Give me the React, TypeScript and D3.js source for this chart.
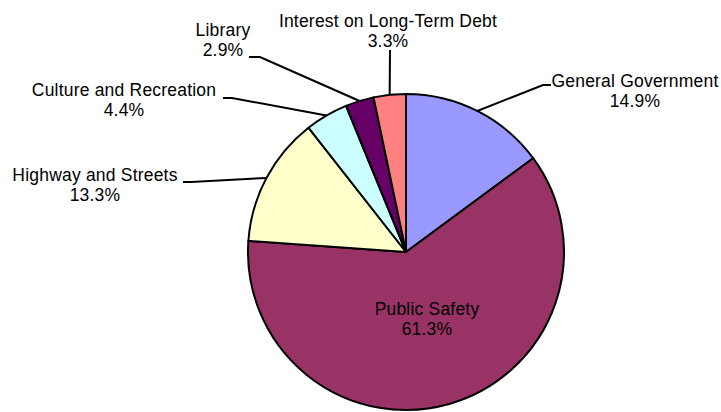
import React from "react";
import * as d3 from "d3";

const categories = [
  "General Government",
  "Public Safety",
  "Highway and Streets",
  "Culture and Recreation",
  "Library",
  "Interest on Long-Term Debt",
];
const values = [14.9, 61.3, 13.3, 4.4, 2.9, 3.3];
const colors = ["#9999FF", "#993366", "#FFFFCC", "#CCFFFF", "#660066", "#FF8080"];

// label layout: text centre x, first baseline y, leader elbow and end (null = inside label)
const labelLayout: ({ tx: number; ty: number; elbow: [number, number] | null; end: [number, number] | null })[] = [
  { tx: 635, ty: 87, elbow: [543, 85], end: [551, 85] },
  { tx: 427, ty: 315, elbow: null, end: null },
  { tx: 95, ty: 181, elbow: [191, 182], end: [183, 182] },
  { tx: 124, ty: 96, elbow: [232, 98], end: [223, 98] },
  { tx: 223, ty: 36, elbow: [260, 57], end: [249, 57] },
  { tx: 388, ty: 27, elbow: [390, 50], end: [390, 50] },
];

const W = 721;
const H = 412;
const cx = 406;
const cy = 252;
const R = 158;

export default function App() {
  const data = categories.map((c, i) => ({ name: c, value: values[i], color: colors[i] }));
  const pie = d3.pie<any>().value((d) => d.value).sort(null).startAngle(0).endAngle(2 * Math.PI);
  const arcs = pie(data);
  const arc = d3.arc<any>().innerRadius(0).outerRadius(R);
  const edge = d3.arc<any>().innerRadius(R).outerRadius(R);
  const fmt = (v: number) => v.toFixed(1) + "%";
  const font = "'Liberation Sans', Arial, sans-serif";

  return (
    <svg width={W} height={H} style={{ position: "absolute", left: 0, top: 0 }}>
      <rect width={W} height={H} fill="#fff" />
      <g transform={`translate(${cx},${cy})`}>
        {arcs.map((a, i) => (
          <path key={i} d={arc(a) as string} fill={a.data.color} stroke="#000" strokeWidth={2} strokeLinejoin="round" />
        ))}
      </g>
      {arcs.map((a, i) => {
        const L = labelLayout[i];
        if (!L.elbow || !L.end) return null;
        const [ex, ey] = edge.centroid(a);
        const pts = [[cx + ex, cy + ey], L.elbow, L.end];
        return (
          <polyline
            key={"l" + i}
            points={pts.map((p) => p.join(",")).join(" ")}
            fill="none"
            stroke="#000"
            strokeWidth={2}
          />
        );
      })}
      {arcs.map((a, i) => {
        const L = labelLayout[i];
        return (
          <text key={"t" + i} x={L.tx} y={L.ty} textAnchor="middle" fontFamily={font} fontSize={17.5} letterSpacing={0.2} fill="#000">
            <tspan x={L.tx}>{a.data.name}</tspan>
            <tspan x={L.tx} dy={20}>{fmt(a.data.value)}</tspan>
          </text>
        );
      })}
    </svg>
  );
}
